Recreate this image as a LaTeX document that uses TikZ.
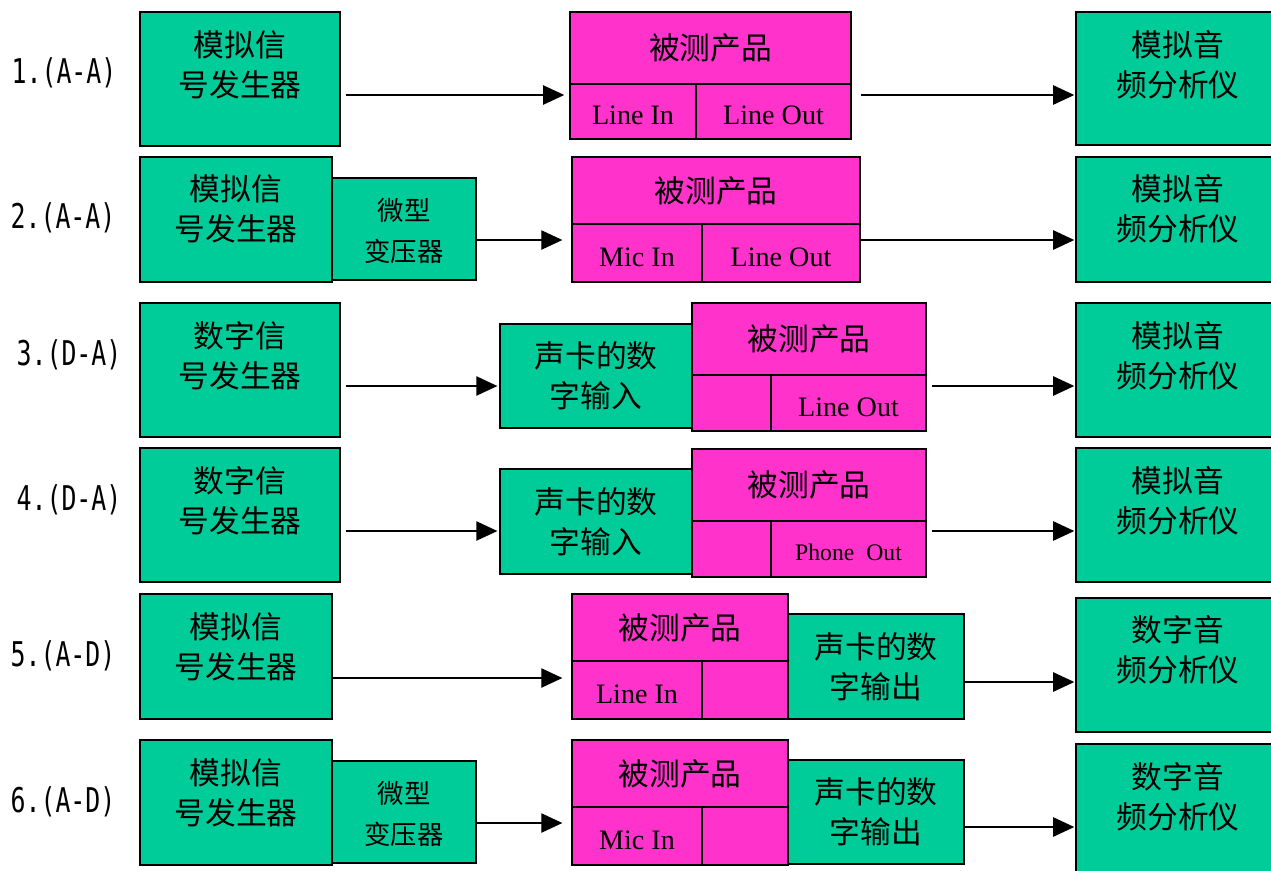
\documentclass[tikz,border=0pt]{standalone}
\usepackage{fontspec}
\setmainfont{Liberation Serif}
\newfontfamily\cjkfont{Noto Sans CJK SC}
\newfontfamily\numfont[FakeStretch=0.73]{DejaVu Sans Mono}
\usetikzlibrary{arrows.meta}
\definecolor{boxgreen}{RGB}{0,204,153}
\definecolor{boxpink}{RGB}{255,51,204}

\begin{document}
\begin{tikzpicture}[x=0.02cm, y=-0.02cm,
        every node/.style={inner sep=0pt},
        gen/.style={draw, fill=boxgreen, line width=1pt},
        dut/.style={draw, fill=boxpink, line width=1pt},
        cjkbig/.style={font=\cjkfont\fontsize{17.5}{22.7}\selectfont, align=center},
        cjksmall/.style={font=\cjkfont\fontsize{15}{23}\selectfont, align=center},
        porttext/.style={font=\fontsize{16}{19}\selectfont, text height=15pt, text depth=0pt},
        rowlabel/.style={font=\numfont\fontsize{19.4}{22}\selectfont},
        arr/.style={-{Triangle[length=12pt,width=11pt]}, line width=0.8pt}]
        \useasboundingbox (0,0) rectangle (1271,870);
        \clip (0,0) rectangle (1271,870);

        % Row labels
        \node[rowlabel] (n1) at (64,73) {1.(A-A)};
        \node[rowlabel] (n2) at (63,218) {2.(A-A)};
        \node[rowlabel] (n3) at (69,355) {3.(D-A)};
        \node[rowlabel] (n4) at (69,500) {4.(D-A)};
        \node[rowlabel] (n5) at (63,656) {5.(A-D)};
        \node[rowlabel] (n6) at (63,802) {6.(A-D)};

        % Row 1
        \node[gen, minimum width=4cm, minimum height=2.68cm] (g1) at (240,79) {};
        \node[cjkbig] (g1t) at (240,65) {模拟信\\号发生器};
        \node[dut, cjkbig, minimum width=5.62cm, minimum height=1.44cm] (p1) at (710.5,48) {被测产品};
        \node[dut, porttext, minimum width=2.52cm, minimum height=1.1cm] (p1a) at (633,111.5) {Line In};
        \node[dut, porttext, minimum width=3.1cm, minimum height=1.1cm] (p1b) at (773.5,111.5) {Line Out};
        \node[gen, minimum width=4.08cm, minimum height=2.66cm] (a1) at (1178,78.5) {};
        \node[cjkbig] (a1t) at (1178,65) {模拟音\\频分析仪};
        \draw[arr, shorten <=2.8pt, shorten >=2.8pt] (g1.east |- 0,95) -- (p1a.west |- 0,95);
        \draw[arr, shorten <=5pt, shorten >=0.5pt] (p1b.east |- 0,95) -- (a1.west |- 0,95);

        % Row 2
        \node[gen, minimum width=3.84cm, minimum height=2.5cm] (g2) at (236,219.5) {};
        \node[cjkbig] (g2t) at (236,209) {模拟信\\号发生器};
        \node[gen, cjksmall, minimum width=2.88cm, minimum height=2.04cm] (t2) at (404,229) {};
        \node[cjksmall] (t2t) at (404,231) {微型\\变压器};
        \node[dut, cjkbig, minimum width=5.76cm, minimum height=1.34cm] (p2) at (716,190.5) {被测产品};
        \node[dut, porttext, minimum width=2.6cm, minimum height=1.16cm] (p2a) at (637,253) {Mic In};
        \node[dut, porttext, minimum width=3.16cm, minimum height=1.16cm] (p2b) at (781,253) {Line Out};
        \node[gen, minimum width=4.08cm, minimum height=2.5cm] (a2) at (1178,219.5) {};
        \node[cjkbig] (a2t) at (1178,209) {模拟音\\频分析仪};
        \draw[arr, shorten >=5pt] (t2.east |- 0,240) -- (p2a.west |- 0,240);
        \draw[arr, shorten >=0.5pt] (p2b.east |- 0,240) -- (a2.west |- 0,240);

        % Row 3
        \node[gen, minimum width=4cm, minimum height=2.68cm] (g3) at (240,370) {};
        \node[cjkbig] (g3t) at (240,356) {数字信\\号发生器};
        \node[gen, cjkbig, minimum width=3.84cm, minimum height=2.08cm] (c3) at (596,376) {声卡的数\\字输入};
        \node[dut, cjkbig, minimum width=4.68cm, minimum height=1.44cm] (p3) at (809,339) {被测产品};
        \node[dut, minimum width=1.58cm, minimum height=1.12cm] (p3a) at (731.5,403) {};
        \node[dut, porttext, minimum width=3.1cm, minimum height=1.12cm] (p3b) at (848.5,403) {Line Out};
        \node[gen, minimum width=4.08cm, minimum height=2.68cm] (a3) at (1178,370) {};
        \node[cjkbig] (a3t) at (1178,356) {模拟音\\频分析仪};
        \draw[arr, shorten <=2.8pt, shorten >=1pt] (g3.east |- 0,386) -- (c3.west |- 0,386);
        \draw[arr, shorten <=2.8pt, shorten >=0.5pt] (p3b.east |- 0,386) -- (a3.west |- 0,386);

        % Row 4
        \node[gen, minimum width=4cm, minimum height=2.68cm] (g4) at (240,515) {};
        \node[cjkbig] (g4t) at (240,501) {数字信\\号发生器};
        \node[gen, cjkbig, minimum width=3.84cm, minimum height=2.1cm] (c4) at (596,521.5) {声卡的数\\字输入};
        \node[dut, cjkbig, minimum width=4.68cm, minimum height=1.44cm] (p4) at (809,485) {被测产品};
        \node[dut, minimum width=1.58cm, minimum height=1.12cm] (p4a) at (731.5,549) {};
        \node[dut, porttext, font=\fontsize{13.5}{16}\selectfont, text height=13pt, minimum width=3.1cm, minimum height=1.12cm] (p4b) at (848.5,549) {Phone\ \ Out};
        \node[gen, minimum width=4.08cm, minimum height=2.68cm] (a4) at (1178,515) {};
        \node[cjkbig] (a4t) at (1178,501) {模拟音\\频分析仪};
        \draw[arr, shorten <=2.8pt, shorten >=1pt] (g4.east |- 0,531) -- (c4.west |- 0,531);
        \draw[arr, shorten <=2.8pt, shorten >=0.5pt] (p4b.east |- 0,531) -- (a4.west |- 0,531);

        % Row 5
        \node[gen, minimum width=3.84cm, minimum height=2.5cm] (g5) at (236,656.5) {};
        \node[cjkbig] (g5t) at (236,647) {模拟信\\号发生器};
        \node[dut, cjkbig, minimum width=4.32cm, minimum height=1.34cm] (p5) at (680,627.5) {被测产品};
        \node[dut, porttext, minimum width=2.6cm, minimum height=1.16cm] (p5a) at (637,690) {Line In};
        \node[dut, minimum width=1.72cm, minimum height=1.16cm] (p5b) at (745,690) {};
        \node[gen, cjkbig, minimum width=3.52cm, minimum height=2.1cm] (o5) at (876,666.5) {声卡的数\\字输出};
        \node[gen, minimum width=4.08cm, minimum height=2.68cm] (a5) at (1178,665) {};
        \node[cjkbig] (a5t) at (1178,650) {数字音\\频分析仪};
        \draw[arr, shorten >=5pt] (g5.east |- 0,678) -- (p5a.west |- 0,678);
        \draw[arr, shorten >=0.5pt] (o5.east |- 0,682) -- (a5.west |- 0,682);

        % Row 6
        \node[gen, minimum width=3.84cm, minimum height=2.5cm] (g6) at (236,802.5) {};
        \node[cjkbig] (g6t) at (236,793) {模拟信\\号发生器};
        \node[gen, minimum width=2.88cm, minimum height=2.04cm] (t6) at (404,812) {};
        \node[cjksmall] (t6t) at (404,814) {微型\\变压器};
        \node[dut, cjkbig, minimum width=4.32cm, minimum height=1.34cm] (p6) at (680,773.5) {被测产品};
        \node[dut, porttext, minimum width=2.6cm, minimum height=1.16cm] (p6a) at (637,836) {Mic In};
        \node[dut, minimum width=1.72cm, minimum height=1.16cm] (p6b) at (745,836) {};
        \node[gen, cjkbig, minimum width=3.52cm, minimum height=2.08cm] (o6) at (876,812) {声卡的数\\字输出};
        \node[gen, minimum width=4.08cm, minimum height=2.68cm] (a6) at (1178,811) {};
        \node[cjkbig] (a6t) at (1178,797) {数字音\\频分析仪};
        \draw[arr, shorten >=5pt] (t6.east |- 0,823) -- (p6a.west |- 0,823);
        \draw[arr, shorten >=0.5pt] (o6.east |- 0,827) -- (a6.west |- 0,827);
    \end{tikzpicture}
\end{document}
